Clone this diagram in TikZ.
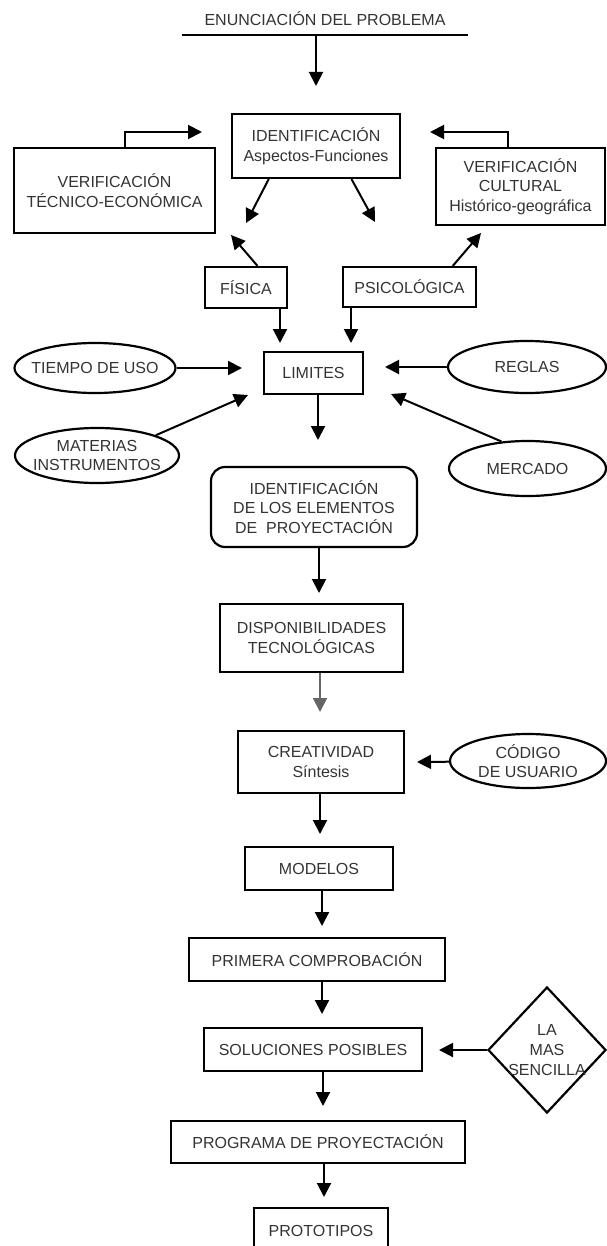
\documentclass[tikz,border=0pt]{standalone}
\usepackage{fontspec}
\setmainfont{Liberation Sans}
\usetikzlibrary{shapes.geometric,arrows.meta}

\begin{document}
\begin{tikzpicture}[x=0.5pt,y=-0.5pt,
  every node/.style={font=\fontsize{8}{9.8}\selectfont,text=black!80,align=center},
  caja/.style={rectangle,draw=black,line width=1.1pt,inner sep=0pt},
  redonda/.style={caja,rounded corners=7pt},
  elipse/.style={ellipse,draw=black,line width=1.1pt,inner xsep=-5pt,inner ysep=0pt},
  rombo/.style={diamond,draw=black,line width=1.1pt,inner xsep=-8pt,inner ysep=0pt},
  flecha/.style={line width=1pt,-{Triangle[width=7pt,length=7pt]}}]
\useasboundingbox (0,0) rectangle (606,1246);

\path (325,19) node[minimum width=143pt,minimum height=16pt,inner sep=0pt] (titulo) {ENUNCIACIÓN DEL PROBLEMA};
\draw[line width=1pt] (titulo.south west) -- (titulo.south east);

\path (316,146) node[caja,minimum width=84pt,minimum height=32pt] (ident) {IDENTIFICACIÓN\\Aspectos-Funciones};
\path (114.5,190.5) node[caja,minimum width=100.5pt,minimum height=42.5pt] (tecnico) {VERIFICACIÓN\\TÉCNICO-ECONÓMICA};
\path (520.5,186.5) node[caja,minimum width=84.5pt,minimum height=38.5pt] (cultural) {VERIFICACIÓN\\CULTURAL\\Histórico-geográfica};
\path (246,287.5) node[caja,minimum width=41pt,minimum height=20.5pt] (fisica) {FÍSICA};
\path (409.5,287) node[caja,minimum width=66.5pt,minimum height=20pt] (psico) {PSICOLÓGICA};

\path (313.5,373) node[caja,minimum width=49.5pt,minimum height=21pt] (limites) {LIMITES};
\path (95,368) node[elipse,minimum width=80.5pt,minimum height=25pt] (tiempo) {TIEMPO DE USO};
\path (527,367) node[elipse,minimum width=79pt,minimum height=26pt] (reglas) {REGLAS};
\path (97,455.5) node[elipse,minimum width=82pt,minimum height=27.5pt] (materias) {MATERIAS\\INSTRUMENTOS};
\path (527.5,468.5) node[elipse,minimum width=78.5pt,minimum height=27.5pt] (mercado) {MERCADO};

\path (314,507) node[redonda,minimum width=103pt,minimum height=40pt] (elementos) {IDENTIFICACIÓN\\DE LOS ELEMENTOS\\DE~ PROYECTACIÓN};
\path (311.5,638) node[caja,minimum width=91.5pt,minimum height=34pt] (disponib) {DISPONIBILIDADES\\TECNOLÓGICAS};
\path (321,762) node[caja,minimum width=83pt,minimum height=31pt] (creatividad) {CREATIVIDAD\\Síntesis};
\path (528,761) node[elipse,minimum width=78pt,minimum height=27pt] (codigo) {CÓDIGO\\DE USUARIO};
\path (319,868.5) node[caja,minimum width=74pt,minimum height=21.5pt] (modelos) {MODELOS};
\path (317,959.5) node[caja,minimum width=128pt,minimum height=21.5pt] (primera) {PRIMERA COMPROBACIÓN};
\path (313,1049.5) node[caja,minimum width=109pt,minimum height=21.5pt] (soluciones) {SOLUCIONES POSIBLES};
\path (547,1050) node[rombo,minimum width=59pt,minimum height=63pt] (sencilla) {LA\\MAS\\SENCILLA};
\path (318,1142) node[caja,minimum width=147pt,minimum height=21pt] (programa) {PROGRAMA DE PROYECTACIÓN};
\path (321,1231) node[caja,minimum width=67pt,minimum height=23pt] (prototipos) {PROTOTIPOS};

% puntas libres de las flechas
\coordinate (t1) at (316,86);
\coordinate (fbL) at (202,132);
\coordinate (fbR) at (430,132);
\coordinate (dl) at (246,223);
\coordinate (dr) at (375,222);
\coordinate (fu) at (231,235);
\coordinate (pu) at (481,233);
\coordinate (fd) at (280,343);
\coordinate (pd) at (351,343);
\coordinate (ta) at (242,368);
\coordinate (ra) at (385,367);
\coordinate (ma) at (248,395);
\coordinate (mea) at (391,394);
\coordinate (ld) at (318,440);
\coordinate (ed) at (319,593);
\coordinate (dd) at (320,712);
\coordinate (cc) at (417,762);
\coordinate (cd) at (320,834);
\coordinate (md) at (322,926);
\coordinate (prd) at (322,1014);
\coordinate (sd) at (439,1050);
\coordinate (sod) at (323,1106);
\coordinate (pgd) at (324,1197);

\draw[flecha] (titulo.south -| t1) -- (t1);
\draw[flecha] ([xshift=5pt]tecnico.north) |- (fbL);
\draw[flecha] ([xshift=-6.25pt]cultural.north) |- (fbR);
\draw[flecha] (ident.215) -- (dl);
\draw[flecha] (ident.-43) -- (dr);
\draw[flecha] (fisica.62) -- (fu);
\draw[flecha] (psico.26) -- (pu);
\draw[flecha] (fisica.south -| fd) -- (fd);
\draw[flecha] (psico.south -| pd) -- (pd);
\draw[flecha] (tiempo) -- (ta);
\draw[flecha] (reglas) -- (ra);
\draw[flecha] (materias.19) -- (ma);
\draw[flecha] (mercado.134) -- (mea);
\draw[flecha] (limites.south -| ld) -- (ld);
\draw[flecha] (elementos.south -| ed) -- (ed);
\draw[flecha,color=black!60] (disponib.south -| dd) -- (dd);
\draw[flecha] (codigo) -- (cc);
\draw[flecha] (creatividad.south -| cd) -- (cd);
\draw[flecha] (modelos.south -| md) -- (md);
\draw[flecha] (primera.south -| prd) -- (prd);
\draw[flecha] (sencilla.west) -- (sd);
\draw[flecha] (soluciones.south -| sod) -- (sod);
\draw[flecha] (programa.south -| pgd) -- (pgd);
\end{tikzpicture}
\end{document}
